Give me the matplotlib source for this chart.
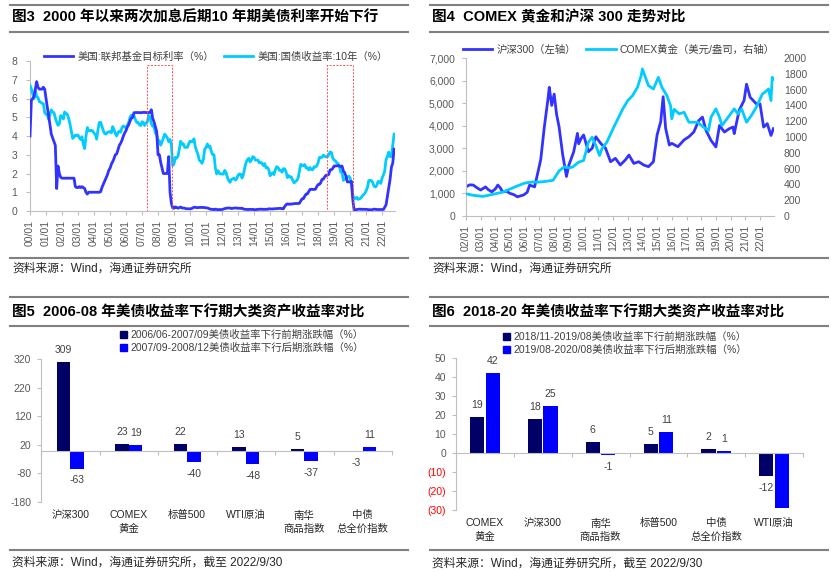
import numpy as np
import pandas as pd
import matplotlib
matplotlib.use('Agg')
import matplotlib.pyplot as plt
import matplotlib.dates as mdates
from matplotlib.lines import Line2D
from matplotlib.patches import Rectangle, Patch
from matplotlib.ticker import FuncFormatter

plt.rcParams['font.family'] = ['Liberation Sans', 'Noto Sans CJK SC']
plt.rcParams['axes.unicode_minus'] = False

# ------------------------------------------------------------------ data
# Fig 3: monthly, 2000-01 .. 2022-10
fed_funds = [
    4.0, 5.9, 6.0, 6.1, 6.5, 6.9, 6.6, 6.5, 6.5, 6.5, 6.6, 6.5,          # 2000
    6.0, 5.5, 5.1, 4.6, 4.1, 3.9, 3.7, 3.5, 1.2, 2.4, 2.0, 1.8,          # 2001
    1.75, 1.75, 1.75, 1.75, 1.75, 1.75, 1.75, 1.75, 1.75, 1.75, 1.3, 1.25,  # 2002
    1.25, 1.3, 1.25, 1.3, 1.25, 1.2, 1.0, 0.9, 1.0, 1.0, 1.0, 1.0,       # 2003
    1.0, 1.0, 1.0, 1.0, 1.0, 1.03, 1.26, 1.43, 1.61, 1.76, 1.93, 2.16,   # 2004
    2.28, 2.50, 2.63, 2.79, 3.00, 3.04, 3.26, 3.50, 3.62, 3.78, 4.00, 4.16,  # 2005
    4.29, 4.49, 4.59, 4.79, 4.94, 4.99, 5.24, 5.25, 5.25, 5.25, 5.25, 5.24,  # 2006
    5.25, 5.26, 5.26, 5.25, 5.25, 5.25, 5.26, 5.40, 4.94, 4.76, 4.49, 4.24,  # 2007
    3.00, 3.00, 2.60, 2.30, 2.00, 2.00, 2.00, 2.00, 2.90, 1.00, 0.40, 0.16,  # 2008
    0.15, 0.22, 0.18, 0.15, 0.18, 0.21, 0.16, 0.16, 0.15, 0.12, 0.12, 0.12,  # 2009
    0.11, 0.13, 0.16, 0.20, 0.20, 0.18, 0.18, 0.19, 0.19, 0.19, 0.19, 0.18,  # 2010
    0.17, 0.16, 0.14, 0.10, 0.09, 0.09, 0.07, 0.10, 0.08, 0.07, 0.08, 0.07,  # 2011
    0.08, 0.10, 0.13, 0.14, 0.16, 0.16, 0.16, 0.13, 0.14, 0.16, 0.16, 0.16,  # 2012
    0.14, 0.15, 0.14, 0.15, 0.11, 0.09, 0.09, 0.08, 0.08, 0.09, 0.08, 0.09,  # 2013
    0.07, 0.07, 0.08, 0.09, 0.09, 0.10, 0.09, 0.09, 0.09, 0.09, 0.09, 0.12,  # 2014
    0.11, 0.11, 0.11, 0.12, 0.12, 0.13, 0.13, 0.14, 0.14, 0.12, 0.12, 0.24,  # 2015
    0.34, 0.38, 0.36, 0.37, 0.37, 0.38, 0.39, 0.40, 0.40, 0.40, 0.41, 0.54,  # 2016
    0.65, 0.66, 0.79, 0.90, 0.91, 1.04, 1.15, 1.16, 1.15, 1.15, 1.16, 1.30,  # 2017
    1.41, 1.42, 1.51, 1.69, 1.70, 1.82, 1.91, 1.91, 1.95, 2.19, 2.20, 2.27,  # 2018
    2.40, 2.40, 2.41, 2.42, 2.39, 2.38, 2.40, 2.13, 2.04, 1.83, 1.55, 1.55,  # 2019
    1.55, 1.58, 0.65, 0.05, 0.05, 0.08, 0.09, 0.10, 0.09, 0.09, 0.09, 0.09,  # 2020
    0.09, 0.08, 0.07, 0.07, 0.06, 0.08, 0.10, 0.09, 0.08, 0.08, 0.08, 0.08,  # 2021
    0.08, 0.08, 0.20, 0.33, 0.77, 1.21, 1.68, 2.33, 2.56, 3.30,              # 2022
]
ust10y = [
    6.70, 6.52, 6.26, 5.99, 6.44, 6.10, 6.05, 5.83, 5.80, 5.74, 5.72, 5.24,  # 2000
    5.16, 5.10, 4.89, 5.14, 5.39, 5.28, 5.24, 4.97, 4.73, 4.57, 4.65, 5.09,  # 2001
    5.04, 4.91, 5.28, 5.21, 5.16, 4.93, 4.65, 4.26, 3.87, 3.94, 4.05, 4.03,  # 2002
    4.05, 3.90, 3.81, 3.96, 3.57, 3.33, 3.98, 4.45, 4.27, 4.29, 4.30, 4.27,  # 2003
    4.15, 4.08, 3.83, 4.35, 4.72, 4.73, 4.50, 4.28, 4.13, 4.10, 4.19, 4.23,  # 2004
    4.22, 4.17, 4.50, 4.34, 4.14, 4.00, 4.18, 4.26, 4.20, 4.46, 4.54, 4.47,  # 2005
    4.42, 4.57, 4.72, 4.99, 5.11, 5.11, 5.09, 4.88, 4.72, 4.73, 4.60, 4.56,  # 2006
    4.76, 4.72, 4.56, 4.69, 4.75, 5.10, 5.00, 4.67, 4.52, 4.53, 4.15, 4.10,  # 2007
    3.74, 3.74, 3.51, 3.68, 3.88, 4.10, 4.01, 3.89, 3.69, 3.81, 3.53, 2.42,  # 2008
    2.52, 2.87, 2.82, 2.93, 3.29, 3.72, 3.56, 3.59, 3.40, 3.39, 3.40, 3.59,  # 2009
    3.73, 3.69, 3.73, 3.85, 3.42, 3.20, 3.01, 2.70, 2.65, 2.54, 2.76, 3.29,  # 2010
    3.39, 3.58, 3.41, 3.46, 3.17, 3.00, 3.00, 2.30, 1.98, 2.15, 2.01, 1.98,  # 2011
    1.97, 1.97, 2.17, 2.05, 1.80, 1.62, 1.53, 1.68, 1.72, 1.75, 1.65, 1.72,  # 2012
    1.91, 1.98, 1.96, 1.76, 1.93, 2.30, 2.58, 2.74, 2.81, 2.62, 2.72, 2.90,  # 2013
    2.86, 2.71, 2.72, 2.71, 2.56, 2.60, 2.54, 2.42, 2.53, 2.30, 2.33, 2.21,  # 2014
    1.88, 1.98, 2.04, 1.94, 2.20, 2.36, 2.32, 2.17, 2.17, 2.07, 2.26, 2.24,  # 2015
    2.09, 1.78, 1.89, 1.81, 1.81, 1.64, 1.50, 1.56, 1.63, 1.76, 2.14, 2.49,  # 2016
    2.43, 2.42, 2.48, 2.30, 2.30, 2.19, 2.32, 2.21, 2.20, 2.36, 2.35, 2.40,  # 2017
    2.58, 2.86, 2.84, 2.87, 2.98, 2.91, 2.89, 2.89, 3.00, 3.15, 3.12, 2.83,  # 2018
    2.71, 2.68, 2.57, 2.53, 2.40, 2.07, 2.06, 1.63, 1.70, 1.71, 1.81, 1.86,  # 2019
    1.76, 1.50, 0.87, 0.66, 0.67, 0.73, 0.62, 0.65, 0.68, 0.79, 0.87, 0.93,  # 2020
    1.08, 1.26, 1.61, 1.64, 1.62, 1.52, 1.32, 1.28, 1.37, 1.58, 1.56, 1.47,  # 2021
    1.76, 1.93, 2.13, 2.75, 2.90, 3.14, 2.90, 2.90, 3.52, 4.10,              # 2022
]
fig3_start = '2000-01-01'
hike_box_start = ['2007-04-15', '2018-07-15']
hike_box_end = ['2008-11-20', '2020-03-10']
hike_box_top = 7.8

# Fig 4
csi_dates = ['2002-01', '2002-04', '2002-07', '2002-10', '2003-01', '2003-05', '2003-07', '2003-10',
             '2004-01', '2004-03', '2004-05', '2004-07', '2004-10', '2005-01', '2005-04', '2005-07',
             '2005-10', '2005-12', '2006-03', '2006-05', '2006-09', '2006-12', '2007-02', '2007-05',
             '2007-08', '2007-09', '2007-11', '2008-01', '2008-03', '2008-05', '2008-08', '2008-11',
             '2009-01', '2009-05', '2009-08', '2009-09', '2009-11', '2010-01', '2010-05', '2010-08',
             '2010-11', '2011-03', '2011-07', '2011-11', '2012-03', '2012-07', '2012-11', '2013-02',
             '2013-06', '2013-10', '2014-02', '2014-06', '2014-10', '2015-01', '2015-04', '2015-06',
             '2015-08', '2015-11', '2016-01', '2016-06', '2016-11', '2017-03', '2017-07', '2017-11',
             '2018-02', '2018-05', '2018-09', '2019-01', '2019-04', '2019-08', '2019-12', '2020-03',
             '2020-04', '2020-08', '2020-12', '2021-02', '2021-05', '2021-10', '2022-01', '2022-04',
             '2022-07', '2022-10', '2022-12']
csi300 = [1290, 1380, 1370, 1250, 1150, 1290, 1180, 1070,
          1200, 1370, 1250, 1070, 1100, 1000, 950, 850,
          900, 930, 1050, 1370, 1290, 2000, 2500, 3940,
          5200, 5700, 4900, 5400, 4500, 3956, 2700, 1750,
          2260, 2850, 3660, 3200, 3440, 3590, 2850, 3000,
          3510, 3220, 3000, 2405, 2555, 2260, 2480, 2700,
          2330, 2405, 2260, 2185, 2405, 3590, 4180, 5285,
          3885, 3145, 3220, 3070, 3370, 3510, 3720, 4230,
          4380, 3790, 3350, 3060, 4010, 3720, 3870, 3940,
          3650, 4680, 5120, 5840, 5260, 4970, 4970, 3940,
          4090, 3570, 3870]
gold_dates = ['2002-01', '2002-07', '2003-03', '2003-11', '2004-07', '2005-03', '2005-08', '2006-01',
              '2006-07', '2007-01', '2007-06', '2007-12', '2008-05', '2008-09', '2009-01', '2009-04',
              '2009-09', '2010-01', '2010-05', '2010-08', '2010-11', '2011-02', '2011-04', '2011-08',
              '2012-01', '2012-05', '2012-09', '2013-01', '2013-05', '2013-09', '2013-12', '2014-01',
              '2014-04', '2014-06', '2014-10', '2015-02', '2015-05', '2015-09', '2015-12', '2016-01',
              '2016-03', '2016-07', '2016-11', '2017-03', '2017-06', '2017-10', '2018-03', '2018-07',
              '2018-09', '2019-01', '2019-04', '2019-06', '2019-11', '2020-04', '2020-07', '2020-10',
              '2021-02', '2021-06', '2021-10', '2022-03', '2022-05', '2022-08', '2022-10', '2022-11',
              '2022-12']
gold = [282, 262, 248, 274, 303, 354, 387, 417,
        430, 430, 438, 451, 570, 620, 610, 619,
        682, 703, 934, 997, 893, 766, 851, 934,
        1103, 1229, 1356, 1461, 1524, 1629, 1777, 1861,
        1735, 1650, 1608, 1755, 1629, 1524, 1398, 1230,
        1350, 1293, 1313, 1187, 1187, 1187, 1124, 1082,
        1250, 1356, 1250, 1145, 1250, 1356, 1293, 1356,
        1187, 1272, 1377, 1545, 1566, 1608, 1461, 1756,
        1734]

# Fig 5
cats5 = ['沪深300', 'COMEX\n黄金', '标普500', 'WTI原油', '南华\n商品指数', '中债\n总全价指数']
pre_2006 = [309, 23, 22, 13, 5, -3]
post_2007 = [-63, 19, -40, -48, -37, 11]
leg5 = ['2006/06-2007/09美债收益率下行前期涨跌幅（%）', '2007/09-2008/12美债收益率下行后期涨跌幅（%）']
yticks5 = [-180, -80, 20, 120, 220, 320]

# Fig 6
cats6 = ['COMEX\n黄金', '沪深300', '南华\n商品指数', '标普500', '中债\n总全价指数', 'WTI原油']
pre_2018 = [19, 18, 6, 5, 2, -12]
post_2019 = [42, 25, -1, 11, 1, -29]
leg6 = ['2018/11-2019/08美债收益率下行前期涨跌幅（%）', '2019/08-2020/08美债收益率下行后期涨跌幅（%）']
yticks6 = [-30, -20, -10, 0, 10, 20, 30, 40, 50]
# the WTI post-period value label is hidden behind the category label in the source chart
hidden_post_labels6 = [5]

# ------------------------------------------------------------------ style
W, H = 831, 572
BLUE = '#3333FF'
CYAN = '#00CCFF'
NAVY = '#000066'
BRIGHT = '#0000FF'
GRID = '#BFBFBF'
TICK = '#595959'
RULE = '#808080'

fig = plt.figure(figsize=(W / 100, H / 100), dpi=100)
fig.patch.set_facecolor('white')


def ax_px(l, t, r, b):
    return fig.add_axes([l / W, 1 - b / H, (r - l) / W, (b - t) / H])


def hline(x0, x1, y, lw=1.2):
    fig.add_artist(Line2D([x0 / W, x1 / W], [1 - y / H, 1 - y / H], color=RULE, lw=lw,
                          transform=fig.transFigure))


def ftext(x, y, s, **kw):
    fig.text(x / W, 1 - y / H, s, **kw)


def style_axes(ax):
    for s in ['top', 'right']:
        ax.spines[s].set_visible(False)
    for s in ['left', 'bottom']:
        ax.spines[s].set_color(GRID)
        ax.spines[s].set_linewidth(0.8)
    ax.tick_params(colors=GRID, labelcolor=TICK, labelsize=7.5, length=3, width=0.8)


# frames / titles / sources
for (x0, x1) in [(10, 408), (430, 828)]:
    hline(x0, x1, 5, 1.5)
    hline(x0, x1, 32, 1.5)
    hline(x0, x1, 258, 1.5)
    hline(x0, x1, 297, 1.5)
    hline(x0, x1, 326, 1.5)
    hline(x0, x1, 550, 1.5)

tkw = dict(fontsize=10.5, fontweight='bold', va='center', ha='left', color='black')
ftext(12, 17, '图3  2000 年以来两次加息后期10 年期美债利率开始下行', **tkw)
ftext(432, 17, '图4  COMEX 黄金和沪深 300 走势对比', **tkw)
ftext(12, 312, '图5  2006-08 年美债收益率下行期大类资产收益率对比', **tkw)
ftext(432, 312, '图6  2018-20 年美债收益率下行期大类资产收益率对比', **tkw)
skw = dict(fontsize=8.5, va='center', ha='left', color='#262626')
ftext(12, 269, '资料来源：Wind，海通证券研究所', **skw)
ftext(432, 269, '资料来源：Wind，海通证券研究所', **skw)
ftext(12, 563, '资料来源：Wind，海通证券研究所，截至 2022/9/30', **skw)
ftext(432, 564, '资料来源：Wind，海通证券研究所，截至 2022/9/30', **skw)

# ------------------------------------------------------------------ Fig 3
ax3 = ax_px(30, 61, 395, 211)
style_axes(ax3)
d3 = pd.date_range(fig3_start, periods=len(fed_funds), freq='MS')
ax3.plot(d3, ust10y, color=CYAN, lw=2.0, label='美国:国债收益率:10年（%）', zorder=3)
ax3.plot(d3, fed_funds, color=BLUE, lw=2.0, label='美国:联邦基金目标利率（%）', zorder=4)
for s, e in zip(hike_box_start, hike_box_end):
    x0 = mdates.date2num(pd.Timestamp(s))
    x1 = mdates.date2num(pd.Timestamp(e))
    ax3.add_patch(Rectangle((x0, 0), x1 - x0, hike_box_top, fill=False, edgecolor='#FF5050',
                            lw=0.7, ls=(0, (2, 1.5)), zorder=5))
ax3.set_ylim(0, 8)
ax3.set_yticks(range(0, 9))
ax3.set_xlim(pd.Timestamp('2000-01-01'), pd.Timestamp('2022-10-22'))
ax3.xaxis.set_major_locator(mdates.YearLocator(1))
ax3.xaxis.set_major_formatter(mdates.DateFormatter('%y/%m'))
ax3.tick_params(axis='x', labelrotation=90, labelsize=7.5)
ax3.tick_params(axis='y', pad=6)
h, l = ax3.get_legend_handles_labels()
fig.legend([h[1], h[0]], [l[1], l[0]], loc='center', bbox_to_anchor=(216 / W, 1 - 57 / H),
           ncol=2, frameon=False, fontsize=7.5, handlelength=2.8, columnspacing=1.0,
           handletextpad=0.4, borderpad=0, labelcolor='#404040')

# ------------------------------------------------------------------ Fig 4
ax4 = ax_px(466, 58, 774, 216)
style_axes(ax4)
ax4.plot(pd.to_datetime(csi_dates), csi300, color=BLUE, lw=2.0, label='沪深300（左轴）')
ax4.set_ylim(0, 7000)
ax4.set_yticks(range(0, 7001, 1000))
ax4.yaxis.set_major_formatter(FuncFormatter(lambda v, p: f'{int(v):,}'))
ax4.set_xlim(pd.Timestamp('2002-01-01'), pd.Timestamp('2022-12-15'))
ax4.xaxis.set_major_locator(mdates.YearLocator(1))
ax4.xaxis.set_major_formatter(mdates.DateFormatter('%y/%m'))
ax4.tick_params(axis='x', labelrotation=90, labelsize=7.5)
ax4.tick_params(axis='y', pad=5)
ax4r = ax4.twinx()
ax4r.plot(pd.to_datetime(gold_dates), gold, color=CYAN, lw=2.0, label='COMEX黄金（美元/盎司，右轴）')
ax4r.set_ylim(0, 2000)
ax4r.set_yticks(range(0, 2001, 200))
for s in ['top', 'right', 'left', 'bottom']:
    ax4r.spines[s].set_visible(False)
ax4r.tick_params(axis='y', length=0, labelcolor=TICK, labelsize=7.5, pad=7)
h1, l1 = ax4.get_legend_handles_labels()
h2, l2 = ax4r.get_legend_handles_labels()
fig.legend(h1 + h2, l1 + l2, loc='center', bbox_to_anchor=(619 / W, 1 - 50 / H),
           ncol=2, frameon=False, fontsize=7.5, handlelength=2.8, columnspacing=1.0,
           handletextpad=0.4, borderpad=0, labelcolor='#404040')


# ------------------------------------------------------------------ bar charts
def bar_panel(box, cats, s1, s2, names, yticks, width, off, legend_xy, red_neg=False,
              cat_pad=5, hide2=()):
    ax = ax_px(*box)
    style_axes(ax)
    x = np.arange(len(cats))
    b1 = ax.bar(x - off, s1, width, color=NAVY, label=names[0], zorder=2)
    b2 = ax.bar(x + off, s2, width, color=BRIGHT, label=names[1], zorder=2)
    ax.bar_label(b1, padding=5, fontsize=7.5, color='#404040', clip_on=False)
    lab2 = ['' if i in hide2 else f'{v}' for i, v in enumerate(s2)]
    ax.bar_label(b2, labels=lab2, padding=5, fontsize=7.5, color='#404040', clip_on=False)
    ax.set_xlim(-0.5, len(cats) - 0.5)
    ax.set_ylim(yticks[0], yticks[-1])
    ax.set_yticks(yticks)
    ax.spines['bottom'].set_position(('data', 0))
    ax.set_xticks(np.arange(-0.5, len(cats), 1.0))
    ax.set_xticklabels([])
    ax.tick_params(axis='y', pad=4)
    if red_neg:
        ax.set_yticklabels([f'({abs(v)})' if v < 0 else f'{v}' for v in yticks])
        for t, v in zip(ax.get_yticklabels(), yticks):
            if v < 0:
                t.set_color('#FF0000')
    for i, c in enumerate(cats):
        ax.annotate(c, xy=(i, 0), xycoords=('data', 'axes fraction'), xytext=(0, -cat_pad),
                    textcoords='offset points', ha='center', va='top', fontsize=7.5,
                    color='#262626', linespacing=1.45)
    fig.legend([Patch(color=NAVY), Patch(color=BRIGHT)], names, loc='upper left',
               bbox_to_anchor=(legend_xy[0] / W, 1 - legend_xy[1] / H), frameon=False,
               fontsize=7.5, handlelength=0.7, handleheight=0.7, handletextpad=0.3,
               labelspacing=0.25, borderpad=0, borderaxespad=0, labelcolor='#404040')
    return ax


bar_panel((41, 359, 392, 502), cats5, pre_2006, post_2007, leg5, yticks5,
          0.23, 0.118, (120, 330), cat_pad=6)
bar_panel((456, 358, 803, 510), cats6, pre_2018, post_2019, leg6, yticks6,
          0.245, 0.135, (503, 332), red_neg=True, cat_pad=6, hide2=hidden_post_labels6)

fig.savefig('out.png', dpi=100)
